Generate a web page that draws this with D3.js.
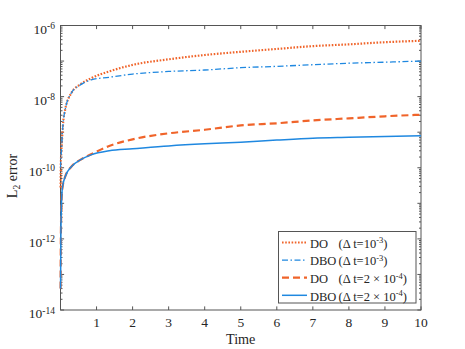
<!DOCTYPE html>
<html>
<head>
    <script src="https://d3js.org/d3.v7.min.js"></script>
    <style>
        body { margin: 0; background: #fff; }
        text { font-family: "Liberation Serif", "Times New Roman", serif; fill: #262626; }
    </style>
</head>
<body>
    <svg id="plot" width="465" height="349"></svg>
    <script>
        // time samples
        const time = [0.002, 0.01, 0.02, 0.04, 0.065, 0.13, 0.3, 0.55, 0.85, 1.35, 2, 3, 4, 5, 6, 7, 8, 9, 10];

        // L2 error per series
        const doCoarse = [2.8e-11, 1.26e-10, 2.5e-10, 5.6e-10, 1.45e-9, 4.3e-9, 1.26e-8, 2.2e-8, 3.3e-8, 5.1e-8,
            7.8e-8, 1.12e-7, 1.48e-7, 1.82e-7, 2.19e-7, 2.63e-7, 2.95e-7, 3.39e-7, 3.72e-7];
        const dboCoarse = [1.0e-10, 1.6e-10, 2.5e-10, 5.6e-10, 1.45e-9, 4.3e-9, 1.26e-8, 2.14e-8, 2.95e-8, 3.5e-8,
            4.3e-8, 5.1e-8, 5.6e-8, 6.5e-8, 7.1e-8, 7.9e-8, 8.7e-8, 9.3e-8, 1.0e-7];
        const doFine = [4.0e-14, 1.0e-12, 5.0e-12, 2.0e-11, 3.2e-11, 5.6e-11, 1.07e-10, 1.66e-10, 2.4e-10, 4.1e-10,
            6.3e-10, 9.3e-10, 1.17e-9, 1.55e-9, 1.78e-9, 2.14e-9, 2.45e-9, 2.8e-9, 3.1e-9];
        const dboFine = [4.0e-14, 1.0e-12, 5.0e-12, 2.0e-11, 3.2e-11, 5.6e-11, 1.07e-10, 1.66e-10, 2.3e-10, 3.0e-10,
            3.4e-10, 4.1e-10, 4.7e-10, 5.2e-10, 6.0e-10, 6.8e-10, 7.2e-10, 7.6e-10, 7.9e-10];

        const xTicks = [1, 2, 3, 4, 5, 6, 7, 8, 9, 10];
        const yLabelExps = [-6, -8, -10, -12, -14];

        const series = [
            { name: "DO", dt: ["10", "-3"], values: doCoarse, color: "#f0642a", width: 2.2, dash: "1.6,1.6" },
            { name: "DBO", dt: ["10", "-3"], values: dboCoarse, color: "#1f88e0", width: 1.3, dash: "6,2.5,1.5,2.5" },
            { name: "DO", dt: ["2 \u00d7 10", "-4"], values: doFine, color: "#f0642a", width: 2.2, dash: "7,4" },
            { name: "DBO", dt: ["2 \u00d7 10", "-4"], values: dboFine, color: "#1f88e0", width: 1.5, dash: null }
        ];

        const svg = d3.select("#plot");
        const margin = { left: 60.5, right: 421, top: 25.5, bottom: 310 };

        const x = d3.scaleLinear().domain([0, 10]).range([margin.left, margin.right]);
        const y = d3.scaleLog().domain([1e-14, 1e-6]).range([margin.bottom, margin.top]);

        // minor + major ticks on the log axis
        let minor = [];
        for (let e = -14; e < -6; e++) {
            for (let m = 2; m <= 9; m++) minor.push(m * Math.pow(10, e));
        }
        let major = d3.range(-14, -5).map(e => Math.pow(10, e));

        const axes = svg.append("g").attr("stroke", "#555").attr("stroke-width", 1);

        // frame
        axes.append("rect")
            .attr("x", margin.left).attr("y", margin.top)
            .attr("width", margin.right - margin.left).attr("height", margin.bottom - margin.top)
            .attr("fill", "none");

        // x ticks bottom & top
        axes.append("g").selectAll("line").data(xTicks).join("line")
            .attr("x1", d => x(d)).attr("x2", d => x(d))
            .attr("y1", margin.bottom).attr("y2", margin.bottom - 3.6);
        axes.append("g").selectAll("line").data(xTicks).join("line")
            .attr("x1", d => x(d)).attr("x2", d => x(d))
            .attr("y1", margin.top).attr("y2", margin.top + 3.6);

        // y ticks left & right
        [[margin.left, 1], [margin.right, -1]].forEach(([x0, s]) => {
            axes.append("g").selectAll("line").data(major).join("line")
                .attr("x1", x0).attr("x2", x0 + s * 3.6)
                .attr("y1", d => y(d)).attr("y2", d => y(d));
            axes.append("g").selectAll("line").data(minor).join("line")
                .attr("x1", x0).attr("x2", x0 + s * 2)
                .attr("y1", d => y(d)).attr("y2", d => y(d));
        });

        // x tick labels
        svg.append("g").selectAll("text").data(xTicks).join("text")
            .attr("x", d => x(d))
            .attr("y", margin.bottom + 17.3)
            .attr("text-anchor", "middle")
            .attr("font-size", 13.5)
            .text(d => d);

        // y tick labels with superscripts
        const yl = svg.append("g").selectAll("text").data(yLabelExps).join("text")
            .attr("x", 55)
            .attr("y", d => y(Math.pow(10, d)) + 8)
            .attr("text-anchor", "end")
            .attr("font-size", 13.5);
        yl.append("tspan").text("10");
        yl.append("tspan").attr("dy", -4.5).attr("font-size", 9.5).text(d => "-" + Math.abs(d));

        // axis titles
        svg.append("text")
            .attr("x", 240.7).attr("y", 344)
            .attr("text-anchor", "middle")
            .attr("font-size", 14.2)
            .text("Time");

        const ylab = svg.append("text")
            .attr("transform", "translate(16.7,176) rotate(-90)")
            .attr("text-anchor", "middle")
            .attr("font-size", 14.2);
        ylab.append("tspan").text("L");
        ylab.append("tspan").attr("dy", 3).attr("font-size", 9.5).text("2");
        ylab.append("tspan").attr("dy", -3).text(" error");

        // curves
        const line = d3.line()
            .x((d, i) => x(time[i]))
            .y(d => y(d))
            .curve(d3.curveMonotoneX);

        const plot = svg.append("g");
        series.forEach(s => {
            plot.append("path")
                .attr("d", line(s.values))
                .attr("fill", "none")
                .attr("stroke", s.color)
                .attr("stroke-width", s.width)
                .attr("stroke-dasharray", s.dash);
        });

        // legend
        const legend = svg.append("g");
        legend.append("rect")
            .attr("x", 278.5).attr("y", 231.5)
            .attr("width", 137.5).attr("height", 71.5)
            .attr("fill", "#fff")
            .attr("stroke", "#555")
            .attr("stroke-width", 1);

        series.forEach((s, i) => {
            const ry = 242.5 + i * 17.6;
            legend.append("line")
                .attr("x1", 282).attr("x2", 307)
                .attr("y1", ry).attr("y2", ry)
                .attr("stroke", s.color)
                .attr("stroke-width", s.width)
                .attr("stroke-dasharray", s.dash);
            const t = legend.append("text")
                .attr("x", 310).attr("y", ry + 5.3)
                .attr("font-size", 12.5);
            t.append("tspan").text(s.name);
            t.append("tspan").attr("x", 338.5).text("(\u0394 t=" + s.dt[0]);
            t.append("tspan").attr("dy", -4.5).attr("font-size", 8.5).text(s.dt[1]);
            t.append("tspan").attr("dy", 4.5).text(")");
        });
    </script>
</body>
</html>
